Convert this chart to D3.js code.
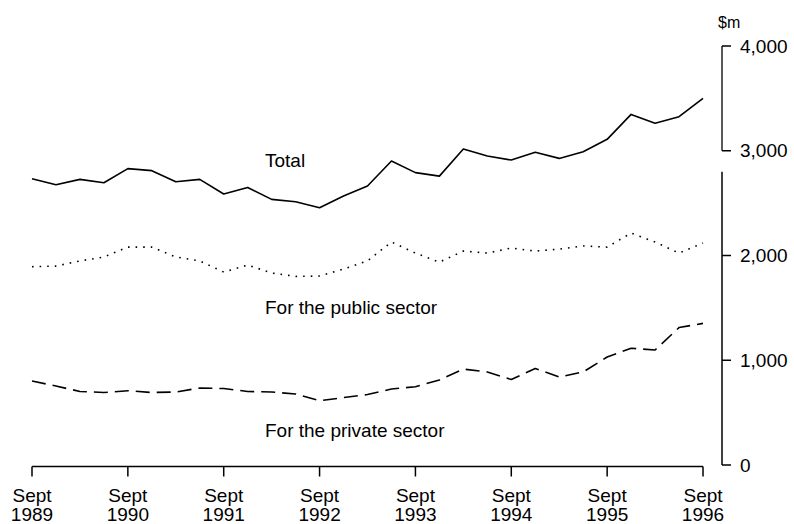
<!DOCTYPE html>
<html>
<head>
<meta charset="utf-8">
<script src="https://cdn.jsdelivr.net/npm/d3@7"></script>
<style>
    body { margin: 0; background: #fff; }
    svg { display: block; }
    text { font-family: "Liberation Sans", Arial, Helvetica, sans-serif; fill: #000; }
</style>
</head>
<body>
<script>
// SVG的宽度和高度
var w = 794;
var h = 524;

// 季度序号（Sept 1989 = 0 ... Sept 1996 = 28）
var quarters = d3.range(29);

// 横轴刻度：每年九月
var tickQuarters = [0, 4, 8, 12, 16, 20, 24, 28];
var tickYears = ["1989", "1990", "1991", "1992", "1993", "1994", "1995", "1996"];

// 纵轴刻度
var yTicks = [0, 1000, 2000, 3000, 4000];

// 各序列的数值 ($m)
var total = [2733, 2676, 2727, 2695, 2829, 2810, 2704, 2727, 2587, 2650,
    2536, 2513, 2456, 2568, 2664, 2902, 2791, 2758, 3016, 2950,
    2911, 2985, 2927, 2991, 3109, 3347, 3262, 3325, 3500];
var publicSector = [1893, 1899, 1948, 1986, 2080, 2080, 1986, 1948, 1842, 1909,
    1833, 1800, 1804, 1871, 1948, 2129, 2023, 1937, 2042, 2023,
    2071, 2042, 2061, 2091, 2080, 2214, 2129, 2023, 2119];
var privateSector = [802, 754, 702, 692, 709, 692, 697, 735, 730, 702,
    697, 678, 613, 644, 673, 725, 747, 812, 916, 888,
    816, 921, 840, 888, 1031, 1114, 1098, 1312, 1352];

// 比例尺
var x = d3.scaleLinear()
    .domain([0, 28])
    .range([32, 703]);

var y = d3.scaleLinear()
    .domain([0, 4000])
    .range([465, 46]);

var fontSize = 19;

var svg = d3.select("body").append("svg")
    .attr("width", w)
    .attr("height", h);

// ———————— 折线 ———————— //
var line = d3.line()
    .x(function (d, i) { return x(quarters[i]); })
    .y(function (d) { return y(d); });

var series = [
    { values: total, dash: null },
    { values: publicSector, dash: "1.6,6" },
    { values: privateSector, dash: "14,7" }
];

svg.selectAll("path.series")
    .data(series)
    .enter()
    .append("path")
    .attr("class", "series")
    .attr("d", function (d) { return line(d.values); })
    .attr("fill", "none")
    .attr("stroke", "#000")
    .attr("stroke-width", 1.6)
    .attr("stroke-dasharray", function (d) { return d.dash; })
    .attr("stroke-linejoin", "round");

// ———————— 横轴 ———————— //
var xAxisY = 466.5;

svg.append("line")
    .attr("x1", x(0))
    .attr("x2", x(28))
    .attr("y1", xAxisY)
    .attr("y2", xAxisY)
    .attr("stroke", "#000")
    .attr("stroke-width", 1.5);

var xTick = svg.selectAll("g.xtick")
    .data(tickQuarters)
    .enter()
    .append("g")
    .attr("class", "xtick")
    .attr("transform", function (d) { return "translate(" + x(d) + ",0)"; });

xTick.append("line")
    .attr("y1", xAxisY)
    .attr("y2", xAxisY + 10)
    .attr("stroke", "#000")
    .attr("stroke-width", 1.5);

xTick.append("text")
    .attr("y", 502)
    .attr("text-anchor", "middle")
    .attr("font-size", fontSize)
    .text("Sept");

xTick.append("text")
    .attr("y", 521)
    .attr("text-anchor", "middle")
    .attr("font-size", fontSize)
    .text(function (d, i) { return tickYears[i]; });

// ———————— 纵轴（右侧，带断开） ———————— //
var axisX = 722;

// 上段 3,000 - 4,000
svg.append("line")
    .attr("x1", axisX).attr("x2", axisX)
    .attr("y1", y(4000)).attr("y2", y(3000))
    .attr("stroke", "#000")
    .attr("stroke-width", 1.3);

// 下段 0 - 断点
svg.append("line")
    .attr("x1", axisX).attr("x2", axisX)
    .attr("y1", y(2800)).attr("y2", y(0))
    .attr("stroke", "#000")
    .attr("stroke-width", 1.5);

var yTick = svg.selectAll("g.ytick")
    .data(yTicks)
    .enter()
    .append("g")
    .attr("class", "ytick")
    .attr("transform", function (d) { return "translate(0," + y(d) + ")"; });

yTick.append("line")
    .attr("x1", axisX)
    .attr("x2", axisX + 9)
    .attr("stroke", "#000")
    .attr("stroke-width", 1.5);

yTick.append("text")
    .attr("x", 740)
    .attr("dy", "0.35em")
    .attr("font-size", fontSize)
    .text(function (d) { return d3.format(",")(d); });

// 单位
svg.append("text")
    .attr("x", 718)
    .attr("y", 28)
    .attr("font-size", 16)
    .text("$m");

// ———————— 系列标签 ———————— //
svg.append("text")
    .attr("x", 265)
    .attr("y", 167)
    .attr("font-size", fontSize)
    .text("Total");

svg.append("text")
    .attr("x", 265)
    .attr("y", 314)
    .attr("font-size", fontSize)
    .text("For the public sector");

svg.append("text")
    .attr("x", 265)
    .attr("y", 437)
    .attr("font-size", fontSize)
    .text("For the private sector");
</script>
</body>
</html>
